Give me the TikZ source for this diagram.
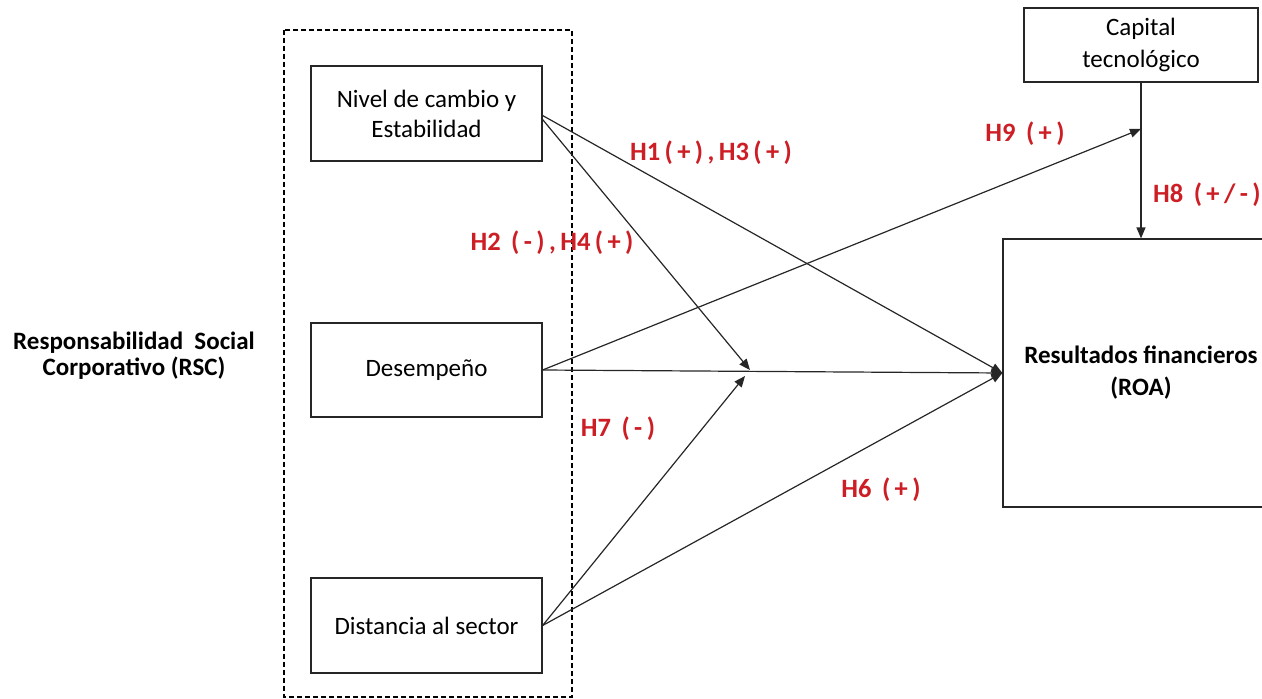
\documentclass[tikz,border=0pt]{standalone}
\usepackage{fontspec}
\setmainfont{Carlito}
\usetikzlibrary{arrows.meta}
\definecolor{hypred}{RGB}{204,30,36}
\begin{document}
\begin{tikzpicture}[x=1pt,y=-1pt,
  box/.style={draw=black!85,line width=1.2pt,inner sep=0pt,align=center,
    font=\fontsize{25}{30}\selectfont},
  hyp/.style={text=hypred,font=\bfseries\fontsize{26.5}{30}\selectfont,inner sep=0pt},
  link/.style={line width=1.2pt,draw=black!85,-{Triangle[length=11pt,width=9pt]}},
]
\useasboundingbox (0,0) rectangle (1262,699);

% RSC group
\draw[dash pattern=on 5pt off 3pt,line width=1.1pt] (284,30) rectangle (572,697);
\node[font=\bfseries\fontsize{25}{26}\selectfont,align=center] (rsc) at (134,356)
  {Responsabilidad~~Social\\Corporativo (RSC)};

\node[box,minimum width=231pt,minimum height=95pt] (nivel) at (426.5,113.5)
  {Nivel de cambio y\\Estabilidad};
\node[box,minimum width=231pt,minimum height=94pt] (desemp) at (426.5,370)
  {Desempeño};
\node[box,minimum width=231pt,minimum height=95pt] (dist) at (426.5,625.5)
  {Distancia al sector};

% moderator and outcome
\node[box,minimum width=234pt,minimum height=74pt,font=\fontsize{25}{32}\selectfont]
  (capital) at (1141,45) {Capital\\tecnológico};
\node[box,minimum width=276pt,minimum height=268pt,font=\bfseries\fontsize{25}{32}\selectfont]
  (roa) at (1141,373) {Resultados financieros\\(ROA)};

% arrow targets on other paths
\coordinate (m2) at (750,370);
\coordinate (m7) at (745,376);
\coordinate (m9) at (1141,129);

% connectors
\draw[link] ([yshift=-2pt]nivel.east) -- (roa.west);
\draw[link] ([yshift=-6pt]nivel.east) -- (m2);
\draw[link] (desemp.east) -- (roa.west);
\draw[link] (desemp.east) -- (m9);
\draw[link] (dist.east) -- (m7);
\draw[link] (dist.east) -- (roa.west);
\draw[link] (capital.south) -- (roa.north);

% hypothesis labels
\node[hyp] (h1) at (711,153) {H1\,(\,+\,)\,,\,H3\,(\,+\,)};
\node[hyp] (h2) at (552,243) {H2 \,(\,-\,)\,,\,H4\,(\,+\,)};
\node[hyp] (h9) at (1025,134) {H9 \,(\,+\,)};
\node[hyp,anchor=west] (h8) at (1153,195) {H8 \,(\,+\,/\,-\,)};
\node[hyp] (h7) at (618,429) {H7 \,(\,-\,)};
\node[hyp] (h6) at (881,490) {H6 \,(\,+\,)};
\end{tikzpicture}
\end{document}
